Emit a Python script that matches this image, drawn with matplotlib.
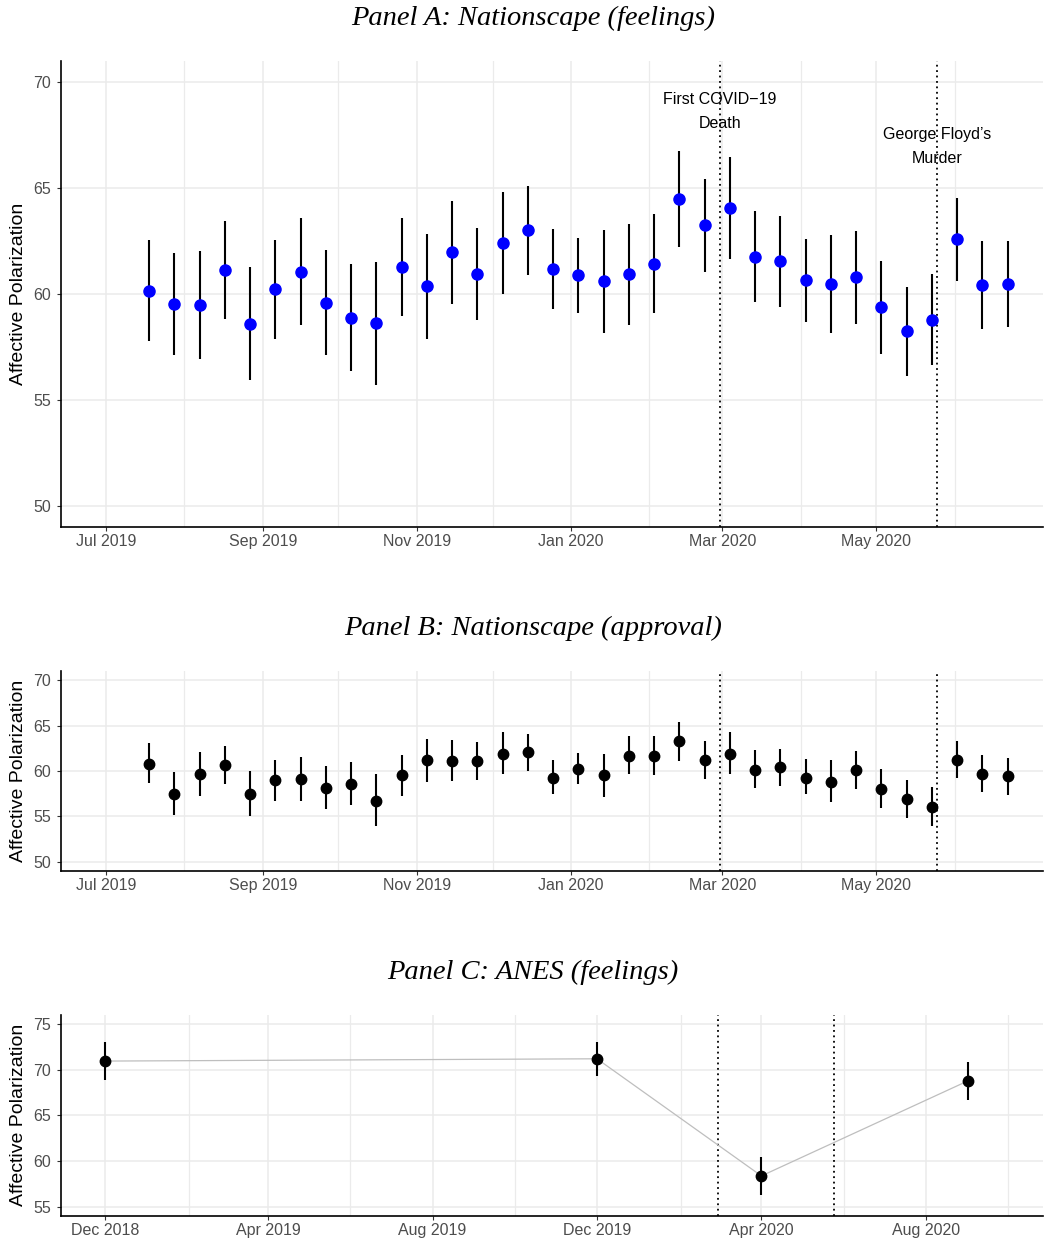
import matplotlib.pyplot as plt
import matplotlib.dates as mdates
import numpy as np
import pandas as pd

plt.rcParams['font.family'] = ['Liberation Sans', 'DejaVu Sans']

# Nationscape waves
wave_dates = ['2019-07-18', '2019-07-28', '2019-08-07', '2019-08-17', '2019-08-27',
              '2019-09-06', '2019-09-16', '2019-09-26', '2019-10-06', '2019-10-16',
              '2019-10-26', '2019-11-05', '2019-11-15', '2019-11-25', '2019-12-05',
              '2019-12-15', '2019-12-25', '2020-01-04', '2020-01-14', '2020-01-24',
              '2020-02-03', '2020-02-13', '2020-02-23', '2020-03-04', '2020-03-14',
              '2020-03-24', '2020-04-03', '2020-04-13', '2020-04-23', '2020-05-03',
              '2020-05-13', '2020-05-23', '2020-06-02', '2020-06-12', '2020-06-22']

# Panel A: feelings
feel_mean = [60.16, 59.53, 59.46, 61.15, 58.60, 60.22, 61.06, 59.59, 58.88, 58.61,
             61.26, 60.36, 61.97, 60.94, 62.43, 63.01, 61.18, 60.90, 60.60, 60.93,
             61.43, 64.47, 63.24, 64.05, 61.76, 61.54, 60.65, 60.46, 60.79, 59.39,
             58.24, 58.79, 62.58, 60.43, 60.47]
feel_lo = [57.76, 57.12, 56.91, 58.83, 55.92, 57.87, 58.52, 57.13, 56.38, 55.72,
           58.94, 57.87, 59.54, 58.77, 60.00, 60.91, 59.29, 59.12, 58.17, 58.55,
           59.09, 62.22, 61.04, 61.64, 59.64, 59.39, 58.68, 58.16, 58.60, 57.18,
           56.13, 56.63, 60.61, 58.35, 58.44]
feel_hi = [62.54, 61.95, 62.02, 63.46, 61.26, 62.57, 63.59, 62.06, 61.40, 61.53,
           63.59, 62.85, 64.38, 63.13, 64.80, 65.10, 63.07, 62.66, 63.01, 63.29,
           63.76, 66.74, 65.42, 66.46, 63.91, 63.70, 62.58, 62.77, 62.96, 61.57,
           60.35, 60.93, 64.55, 62.50, 62.50]

# Panel B: approval
appr_mean = [60.81, 57.51, 59.63, 60.62, 57.51, 58.97, 59.12, 58.17, 58.57, 56.74,
             59.52, 61.25, 61.14, 61.14, 61.90, 62.09, 59.27, 60.22, 59.52, 61.68,
             61.68, 63.26, 61.21, 61.87, 60.15, 60.48, 59.23, 58.83, 60.11, 58.02,
             56.96, 56.04, 61.25, 59.67, 59.41]
appr_lo = [58.68, 55.13, 57.22, 58.53, 55.05, 56.67, 56.70, 55.82, 56.23, 53.96,
           57.25, 58.83, 58.86, 59.05, 59.63, 60.00, 57.44, 58.57, 57.14, 59.63,
           59.60, 61.10, 59.12, 59.67, 58.17, 58.39, 57.44, 56.63, 58.06, 55.93,
           54.87, 53.92, 59.23, 57.69, 57.40]
appr_hi = [63.08, 59.85, 62.05, 62.75, 60.04, 61.17, 61.54, 60.59, 60.95, 59.63,
           61.76, 63.55, 63.37, 63.15, 64.25, 64.10, 61.17, 61.94, 61.87, 63.85,
           63.88, 65.42, 63.26, 64.29, 62.27, 62.45, 61.28, 61.17, 62.20, 60.22,
           59.05, 58.24, 63.26, 61.72, 61.47]

# Panel C: ANES
anes_dates = ['2018-12-01', '2019-12-01', '2020-04-01', '2020-09-01']
anes_mean = [70.95, 71.20, 58.36, 68.76]
anes_lo = [68.90, 69.34, 56.31, 66.68]
anes_hi = [73.00, 73.00, 60.47, 70.84]

covid_death = '2020-02-29'
floyd_murder = '2020-05-25'

nat_ticks = ['2019-07-01', '2019-09-01', '2019-11-01', '2020-01-01', '2020-03-01', '2020-05-01']
nat_minor = ['2019-08-01', '2019-10-01', '2019-12-01', '2020-02-01', '2020-04-01', '2020-06-01']
anes_ticks = ['2018-12-01', '2019-04-01', '2019-08-01', '2019-12-01', '2020-04-01', '2020-08-01']
anes_minor = ['2019-02-01', '2019-06-01', '2019-10-01', '2020-02-01', '2020-06-01', '2020-10-01']

W, H = 1045, 1241


def rect(l, t, r, b):
    return [l / W, 1 - b / H, (r - l) / W, (b - t) / H]


def style(ax, xticks, xminor, xlim, yticks, ylim):
    ax.set_xlim(pd.to_datetime(xlim[0]), pd.to_datetime(xlim[1]))
    ax.set_ylim(*ylim)
    ax.set_xticks(pd.to_datetime(xticks))
    ax.set_xticks(pd.to_datetime(xminor), minor=True)
    ax.xaxis.set_major_formatter(mdates.DateFormatter('%b %Y'))
    ax.set_yticks(yticks)
    ax.grid(True, which='major', color='#EBEBEB', lw=1.1, zorder=0)
    ax.grid(True, which='minor', axis='x', color='#EBEBEB', lw=0.9, zorder=0)
    ax.set_axisbelow(True)
    for s in ['top', 'right']:
        ax.spines[s].set_visible(False)
    for s in ['left', 'bottom']:
        ax.spines[s].set_linewidth(1.2)
    ax.tick_params(which='major', length=3, width=0.8, color='#333333',
                   labelcolor='#4D4D4D', labelsize=11.5)
    ax.tick_params(axis='y', pad=4)
    ax.tick_params(axis='x', pad=2)
    ax.tick_params(which='minor', length=0)
    ax.set_ylabel('Affective Polarization', fontsize=14, va='center')
    ax.yaxis.set_label_coords(-0.0425, 0.5)
    ax.axvline(pd.to_datetime(covid_death), color='black', lw=1.3, ls=(0, (1, 2)), zorder=1)
    ax.axvline(pd.to_datetime(floyd_murder), color='black', lw=1.3, ls=(0, (1, 2)), zorder=1)


fig = plt.figure(figsize=(10.45, 12.41), dpi=100)
title_kw = dict(family=['Liberation Serif', 'DejaVu Serif'], style='italic', fontsize=20.5,
                ha='center', va='center')

# Panel A
d = pd.to_datetime(wave_dates)
ax1 = fig.add_axes(rect(60.7, 61, 1043, 527))
ax1.vlines(d, feel_lo, feel_hi, color='black', lw=1.5, zorder=3)
ax1.plot(d, feel_mean, 'o', color='blue', ms=8, zorder=4)
style(ax1, nat_ticks, nat_minor, ('2019-06-13', '2020-07-06'), [50, 55, 60, 65, 70], (49, 71))
ax1.text(pd.to_datetime(covid_death), 68.6, 'First COVID\u221219\nDeath', ha='center',
         va='center', fontsize=11.5, linespacing=1.75)
ax1.text(pd.to_datetime(floyd_murder), 66.97, 'George Floyd\u2019s\nMurder', ha='center',
         va='center', fontsize=11.5, linespacing=1.75)
fig.text(533 / W, 1 - 18 / H, 'Panel A: Nationscape (feelings)', **title_kw)

# Panel B
ax2 = fig.add_axes(rect(60.7, 671, 1043, 871))
ax2.vlines(d, appr_lo, appr_hi, color='black', lw=1.5, zorder=3)
ax2.plot(d, appr_mean, 'o', color='black', ms=7.5, zorder=4)
style(ax2, nat_ticks, nat_minor, ('2019-06-13', '2020-07-06'), [50, 55, 60, 65, 70], (49, 71))
fig.text(533 / W, 1 - 628 / H, 'Panel B: Nationscape (approval)', **title_kw)

# Panel C
da = pd.to_datetime(anes_dates)
ax3 = fig.add_axes(rect(60.7, 1015, 1043, 1215.7))
ax3.plot(da, anes_mean, color='#BEBEBE', lw=0.9, zorder=2)
ax3.vlines(da, anes_lo, anes_hi, color='black', lw=1.5, zorder=3)
ax3.plot(da, anes_mean, 'o', color='black', ms=7.5, zorder=4)
style(ax3, anes_ticks, anes_minor, ('2018-10-29', '2020-10-27'), [55, 60, 65, 70, 75], (54, 76))
fig.text(533 / W, 1 - 972 / H, 'Panel C: ANES (feelings)', **title_kw)

fig.savefig('out.png', dpi=100)
